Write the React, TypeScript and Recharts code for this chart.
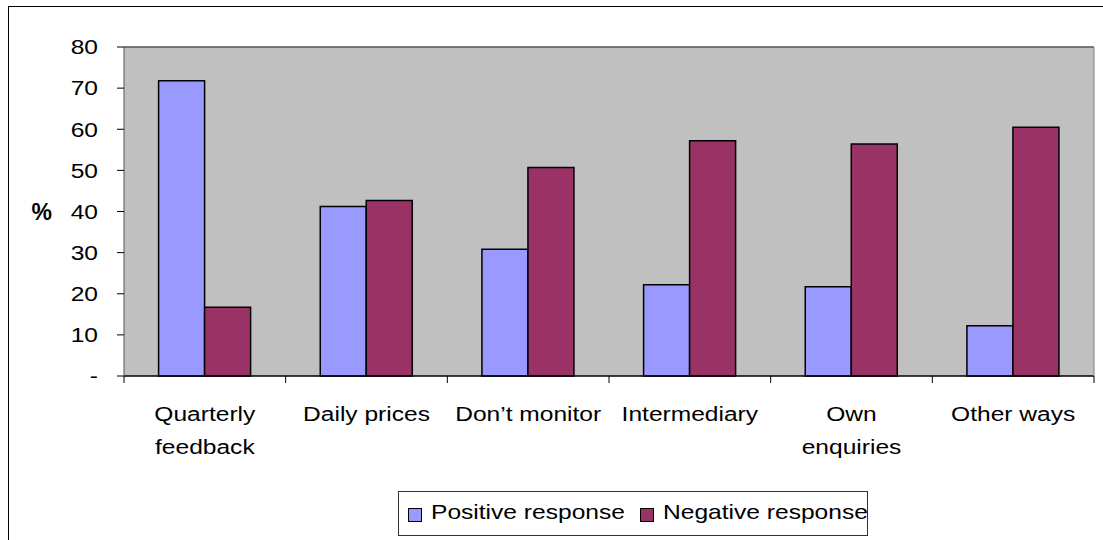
import { BarChart, Bar, XAxis, YAxis, CartesianGrid, ReferenceLine } from "recharts";

const categories = ["Quarterly\nfeedback", "Daily prices", "Don’t monitor", "Intermediary", "Own\nenquiries", "Other ways"];
const positiveValues = [71.8, 41.2, 30.8, 22.2, 21.7, 12.2];
const negativeValues = [16.7, 42.7, 50.7, 57.2, 56.4, 60.5];
const yTicks = [0, 10, 20, 30, 40, 50, 60, 70, 80];

const data = categories.map((name, i) => ({
  name,
  positive: positiveValues[i],
  negative: negativeValues[i],
}));

const FONT = '"Liberation Sans", Arial, sans-serif';
const STRETCH = 1.17;

function YTick(props: any) {
  const { x, y, payload } = props;
  const label = payload.value === 0 ? "-" : String(payload.value);
  return (
    <text
      transform={`translate(${x},${y}) scale(${STRETCH},1)`}
      textAnchor="end"
      dy="0.35em"
      fontSize={21}
      fontFamily={FONT}
      fill="#000"
    >
      {label}
    </text>
  );
}

function XTick(props: any) {
  const { x, y, payload, index } = props;
  const half = payload.offset ?? 0;
  const lines = String(payload.value).split("\n");
  return (
    <g>
      <line x1={x - half} x2={x - half} y1={y} y2={y + 7} stroke="#000" />
      {index === categories.length - 1 && (
        <line x1={x + half} x2={x + half} y1={y} y2={y + 7} stroke="#000" />
      )}
      {lines.map((t, i) => (
        <text
          key={i}
          transform={`translate(${x},${y + 45 + i * 33}) scale(${STRETCH},1)`}
          textAnchor="middle"
          fontSize={21}
          fontFamily={FONT}
          fill="#000"
        >
          {t}
        </text>
      ))}
    </g>
  );
}

export default function App() {
  return (
    <div
      style={{
        position: "absolute",
        left: 0,
        top: 0,
        width: 1103,
        height: 540,
        overflow: "hidden",
        background: "#fff",
        fontFamily: FONT,
      }}
    >
      <div
        style={{
          position: "absolute",
          left: 8,
          top: 6,
          width: 1200,
          height: 600,
          border: "1px solid #000",
        }}
      />
      <div style={{ position: "absolute", left: 0, top: 0 }}>
        <BarChart
          width={1103}
          height={540}
          data={data}
          margin={{ top: 47, right: 8, left: 54, bottom: 104 }}
          barCategoryGap="21.4%"
          barGap={0}
        >
          <CartesianGrid vertical={false} stroke="#000" fill="#C0C0C0" fillOpacity={1} />
          <XAxis
            dataKey="name"
            height={60}
            interval={0}
            tickSize={0}
            tickMargin={0}
            tickLine={false}
            axisLine={{ stroke: "#000" }}
            tick={<XTick />}
          />
          <YAxis
            yAxisId="left"
            width={70}
            domain={[0, 80]}
            ticks={yTicks}
            interval={0}
            tickSize={7}
            tickMargin={19}
            tickLine={{ stroke: "#000" }}
            axisLine={{ stroke: "#555" }}
            tick={<YTick />}
            label={{
              value: "%",
              position: "left",
              offset: 2,
              fontSize: 23,
              fontWeight: "bold",
              fill: "#000",
              fontFamily: FONT,
            }}
          />
          <YAxis
            yAxisId="right"
            orientation="right"
            width={1}
            domain={[0, 80]}
            tick={false}
            tickLine={false}
            axisLine={{ stroke: "#808080" }}
          />
          <ReferenceLine yAxisId="left" y={80} stroke="#808080" />
          <Bar
            yAxisId="left"
            dataKey="positive"
            fill="#9999FF"
            stroke="#000"
            strokeWidth={1.5}
            isAnimationActive={false}
          />
          <Bar
            yAxisId="left"
            dataKey="negative"
            fill="#993366"
            stroke="#000"
            strokeWidth={1.5}
            isAnimationActive={false}
          />
        </BarChart>
      </div>
      <div
        style={{
          position: "absolute",
          left: 398,
          top: 491,
          width: 468,
          height: 43,
          border: "1px solid #333",
          background: "#fff",
          fontSize: 21,
        }}
      >
        <div style={{ position: "absolute", left: 9, top: 16, width: 12, height: 12, background: "#9999FF", border: "1px solid #000" }} />
        <div style={{ position: "absolute", left: 32, top: 8, transform: `scaleX(${STRETCH})`, transformOrigin: "left", whiteSpace: "nowrap" }}>
          Positive response
        </div>
        <div style={{ position: "absolute", left: 241, top: 16, width: 12, height: 12, background: "#993366", border: "1px solid #000" }} />
        <div style={{ position: "absolute", left: 264, top: 8, transform: `scaleX(${STRETCH})`, transformOrigin: "left", whiteSpace: "nowrap" }}>
          Negative response
        </div>
      </div>
    </div>
  );
}
